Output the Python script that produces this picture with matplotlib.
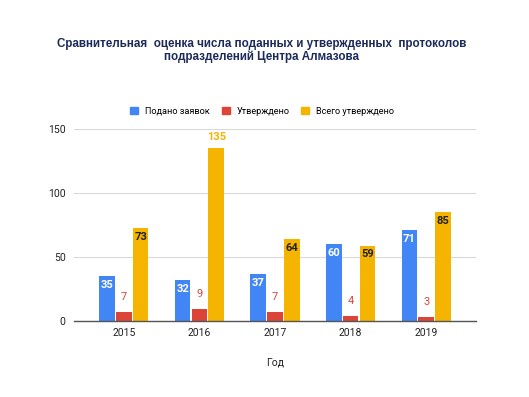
import matplotlib
matplotlib.use("Agg")
import matplotlib.pyplot as plt
import numpy as np
from matplotlib.patches import Patch

years = ["2015", "2016", "2017", "2018", "2019"]
submitted = [35, 32, 37, 60, 71]
approved = [7, 9, 7, 4, 3]
total_approved = [73, 135, 64, 59, 85]
series_names = ["Подано заявок", "Утверждено", "Всего утверждено"]
yticks = [0, 50, 100, 150]

plt.rcParams['font.family'] = ['Roboto', 'DejaVu Sans']

C_BLUE = "#4285F4"
C_RED = "#DB4437"
C_YEL = "#F4B400"

fig = plt.figure(figsize=(5.29, 3.97), dpi=100)
W, H = 529, 397
ax = fig.add_axes([74 / W, 1 - 321 / H, (476 - 74) / W, (321 - 129.3) / H])

x = np.arange(len(years))
bw = 0.205
off = 0.222
b1 = ax.bar(x - off, submitted, bw, color=C_BLUE, zorder=3)
b2 = ax.bar(x, approved, bw, color=C_RED, zorder=3)
b3 = ax.bar(x + off, total_approved, bw, color=C_YEL, zorder=3)

ax.set_xlim(-0.66, 4.66)
ax.set_ylim(0, 150)
ax.set_yticks(yticks)
ax.set_xticks(x)
ax.set_xticklabels(years)
ax.grid(axis='y', color='#d9d9d9', linewidth=0.8, zorder=0)
for s in ['top', 'right', 'left']:
    ax.spines[s].set_visible(False)
ax.spines['bottom'].set_color('#555555')
ax.spines['bottom'].set_linewidth(1.0)
ax.spines['bottom'].set_zorder(4)
ax.tick_params(axis='both', length=0, labelsize=7.5, colors='#222222')
ax.tick_params(axis='y', pad=6)
ax.tick_params(axis='x', pad=5)

fs = 8
for xi, v in zip(x, submitted):
    ax.text(xi - off, v - 3, str(v), ha='center', va='top', color='white',
            fontsize=fs, fontweight='bold', zorder=5)
for xi, v in zip(x, approved):
    ax.text(xi, v + 8, str(v), ha='center', va='bottom', color=C_RED,
            fontsize=fs, zorder=5)
for xi, v in zip(x, total_approved):
    if v > 120:
        ax.text(xi + off, v + 5, str(v), ha='center', va='bottom', color=C_YEL,
                fontsize=fs, fontweight='bold', zorder=5)
    else:
        ax.text(xi + off, v - 3, str(v), ha='center', va='top', color='#222222',
                fontsize=fs, fontweight='bold', zorder=5)

ax.set_xlabel("Год", fontsize=7.5, color='#222222', labelpad=14)

title_font = ['Liberation Sans', 'DejaVu Sans']
fig.text(262 / W, 1 - 44 / H, "Сравнительная  оценка числа поданных и утвержденных  протоколов",
         ha='center', va='center', fontsize=8.4, fontweight='bold', color='#1c2b5a',
         family=title_font)
fig.text(262 / W, 1 - 57 / H, "подразделений Центра Алмазова",
         ha='center', va='center', fontsize=8.4, fontweight='bold', color='#1c2b5a',
         family=title_font)

handles = [Patch(color=c) for c in (C_BLUE, C_RED, C_YEL)]
fig.legend(handles, series_names, loc='center', bbox_to_anchor=(262 / W, 1 - 111 / H),
           ncol=3, frameon=False, fontsize=6.6, handlelength=0.9, handleheight=0.9,
           handletextpad=0.7, columnspacing=1.3)

fig.savefig("out.png", dpi=100, facecolor='white')
